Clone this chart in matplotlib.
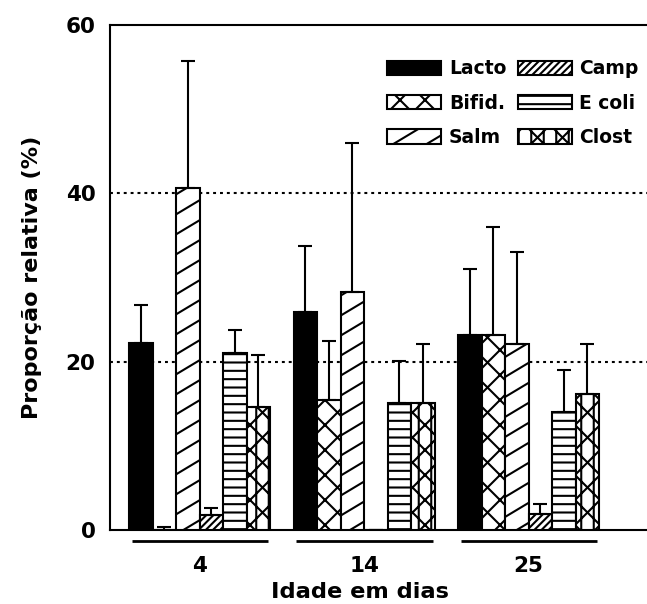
import numpy as np
import matplotlib
matplotlib.use('Agg')
import matplotlib.pyplot as plt
import matplotlib.hatch as mhatch
from matplotlib.path import Path
from matplotlib.transforms import blended_transform_factory

# ---------------- data ----------------
ages = ['4', '14', '25']
series_names = ['Lacto', 'Bifid.', 'Salm', 'Camp', 'E coli', 'Clost']

lacto = [22.2, 25.9, 23.2]
lacto_err = [4.5, 7.9, 7.8]
bifid = [0.0, 15.4, 23.2]
bifid_err = [0.3, 7.1, 12.8]
salm = [40.6, 28.3, 22.1]
salm_err = [15.1, 17.7, 10.9]
camp = [1.8, 0.0, 1.9]
camp_err = [0.8, 0.0, 1.2]
ecoli = [21.0, 15.1, 14.0]
ecoli_err = [2.8, 5.0, 5.0]
clost = [14.6, 15.1, 16.2]
clost_err = [6.2, 7.0, 5.9]

values = [lacto, bifid, salm, camp, ecoli, clost]
errors = [lacto_err, bifid_err, salm_err, camp_err, ecoli_err, clost_err]

# ---------------- custom hatch patterns ----------------
def _diag(n, slope=1.0, sign=1):
    segs = []
    d = 1.0 / n
    for k in range(-3 * n - 2, 3 * n + 3):
        c = k * d
        if sign > 0:
            segs.append(((0.0, c), (1.0, c + slope)))
        else:
            segs.append(((0.0, c), (1.0, c - slope)))
    return segs

def _horiz(n):
    return [((0.0, (k + 0.5) / n), (1.0, (k + 0.5) / n)) for k in range(n)]

def _vert(n):
    return [(((k + 0.5) / n, 0.0), ((k + 0.5) / n, 1.0)) for k in range(n)]

def _segs_for(h):
    if h == 'x':          # Bifid: coarse cross
        return _diag(4) + _diag(4, sign=-1)
    if h == '/':          # Salm: coarse, shallow diagonal
        return _diag(5, slope=0.6)
    if h == '//':         # Camp: dense diagonal
        return _diag(14)
    if h == '-':          # E coli: horizontal lines
        return _horiz(12)
    if h == 'x|':         # Clost: cross + verticals
        return _diag(4) + _diag(4, sign=-1) + _vert(8)
    return []

class CustomHatch(mhatch.HatchPatternBase):
    def __init__(self, hatch, density):
        self.segs = _segs_for(hatch)
        self.num_vertices = 2 * len(self.segs)

    def set_vertices_and_codes(self, vertices, codes):
        for k, ((x0, y0), (x1, y1)) in enumerate(self.segs):
            vertices[2 * k] = (x0, y0)
            vertices[2 * k + 1] = (x1, y1)
        codes[0::2] = Path.MOVETO
        codes[1::2] = Path.LINETO

mhatch._hatch_types[:] = [CustomHatch]

# ---------------- style ----------------
plt.rcParams['font.family'] = ['DejaVu Sans']
plt.rcParams['font.weight'] = 'bold'
plt.rcParams['hatch.linewidth'] = 1.5

faces = ['black', 'white', 'white', 'white', 'white', 'white']
hatches = [None, 'x', '/', '//', '-', 'x|']

fig = plt.figure(figsize=(6.47, 6.04), dpi=100)
ax = fig.add_axes([110 / 647, 74 / 604, 1 - 110 / 647, 505 / 604])

n_series = len(series_names)
gap = 7
for i in range(n_series):
    xs = np.arange(len(ages)) * gap + i
    ax.bar(xs, values[i], width=1.0, align='edge', color=faces[i],
           edgecolor='black', linewidth=1.5, hatch=hatches[i],
           label=series_names[i], zorder=3)
    ax.errorbar(xs + 0.5, values[i],
                yerr=[np.zeros(len(ages)), errors[i]],
                fmt='none', ecolor='black', elinewidth=1.5,
                capsize=4.7, capthick=1.5, zorder=4)

ax.set_ylim(0, 60)
ax.set_xlim(-0.81, 22.04)
ax.set_yticks([0, 20, 40, 60])
ax.set_yticklabels(['0', '20', '40', '60'], fontsize=15.5, fontweight='bold')
ax.set_xticks(np.arange(len(ages)) * gap + 3)
ax.set_xticklabels(ages, fontsize=15.5, fontweight='bold')
ax.tick_params(axis='y', length=0, pad=10.5)
ax.tick_params(axis='x', length=0, pad=19)

for y in (20, 40):
    ax.axhline(y, color='black', lw=1.5, linestyle=(0, (1.4, 1.9)), zorder=1)

for s in ('left', 'top', 'bottom'):
    ax.spines[s].set_linewidth(1.5)
ax.spines['right'].set_visible(False)

trans = blended_transform_factory(ax.transData, ax.transAxes)
for g in range(len(ages)):
    ax.plot([g * gap + 0.12, g * gap + 5.92], [-0.022, -0.022], transform=trans,
            color='black', lw=2.0, clip_on=False, solid_capstyle='butt')

ax.set_ylabel('Proporção relativa (%)', fontsize=16, fontweight='bold')
ax.yaxis.set_label_coords(-0.127, 0.5)
ax.set_xlabel('Idade em dias', fontsize=16.2, fontweight='bold')
ax.xaxis.set_label_coords(0.466, -0.103)
ax.xaxis.label.set_va('top')

leg = ax.legend(ncol=2, loc='upper left', bbox_to_anchor=(0.516, 0.932),
                frameon=False, fontsize=13.5, handlelength=2.9,
                handleheight=0.8, labelspacing=0.82, handletextpad=0.4,
                columnspacing=0.6, borderaxespad=0, borderpad=0)
for t in leg.get_texts():
    t.set_fontweight('bold')

fig.savefig('out.png', dpi=100)
